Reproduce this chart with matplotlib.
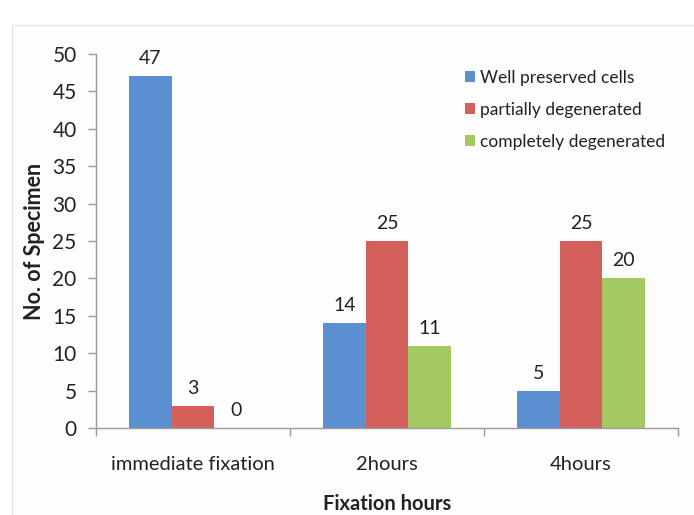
import matplotlib
matplotlib.use("Agg")
import matplotlib.pyplot as plt
import numpy as np
from matplotlib.patches import Rectangle

categories = ["immediate fixation", "2hours", "4hours"]
series_names = ["Well preserved cells", "partially degenerated", "completely degenerated"]
well = [47, 14, 5]
partial = [3, 25, 25]
complete = [0, 11, 20]
colors = ["#5A8FD2", "#D3605B", "#A4C862"]

plt.rcParams['font.family'] = ['Lato', 'DejaVu Sans']

fig = plt.figure(figsize=(6.94, 5.15), dpi=100)
# faint frame as in reference
fig.patches.append(Rectangle((12/694, -0.1), 1.2, 1 - 25/515 + 0.1, transform=fig.transFigure,
                             facecolor='#fdfdfd', edgecolor='#e4e4e4', lw=1.0, zorder=-10))
ax = fig.add_axes([96/694, 1 - 428/515, (678 - 96)/694, (428 - 54)/515])
ax.set_facecolor('none')
ax.set_zorder(5)

x = np.arange(len(categories))
w = 0.22
for i, (vals, name, c) in enumerate(zip([well, partial, complete], series_names, colors)):
    pos = x + (i - 1) * w
    ax.bar(pos, vals, width=w, color=c, label=name, zorder=2)
    for p, v in zip(pos, vals):
        ax.text(p, v + 1.2, str(v), ha='center', va='bottom', fontsize=14, color='#222222')

ax.set_xlim(-0.5, 2.5)
ax.set_ylim(0, 50)
ax.set_yticks(np.arange(0, 51, 5))
ax.set_xticks(x)
ax.set_xticklabels(categories)
ax.set_xticks([-0.5, 0.5, 1.5, 2.5], minor=True)
ax.tick_params(axis='x', which='major', length=0, pad=20, labelsize=14.5, labelcolor='#222222')
ax.tick_params(axis='x', which='minor', length=6, width=1, color='#a09a9a', direction='out')
ax.tick_params(axis='y', length=6, width=1, color='#a09a9a', direction='out', pad=8,
               labelsize=15, labelcolor='#222222')

for s in ['top', 'right']:
    ax.spines[s].set_visible(False)
for s in ['left', 'bottom']:
    ax.spines[s].set_color('#a09a9a')
    ax.spines[s].set_linewidth(1)

ax.set_ylabel("No. of Specimen", fontsize=15.5, fontweight='bold', color='#222222', labelpad=5)
ax.set_xlabel("Fixation hours", fontsize=14.5, fontweight='bold', color='#222222', labelpad=15)

leg = ax.legend(loc='upper right', bbox_to_anchor=(1.005, 1.0), frameon=False, fontsize=12.5,
                handlelength=0.55, handleheight=0.55, handletextpad=0.3, labelspacing=0.92,
                labelcolor='#222222')

fig.savefig("out.png", dpi=100)
